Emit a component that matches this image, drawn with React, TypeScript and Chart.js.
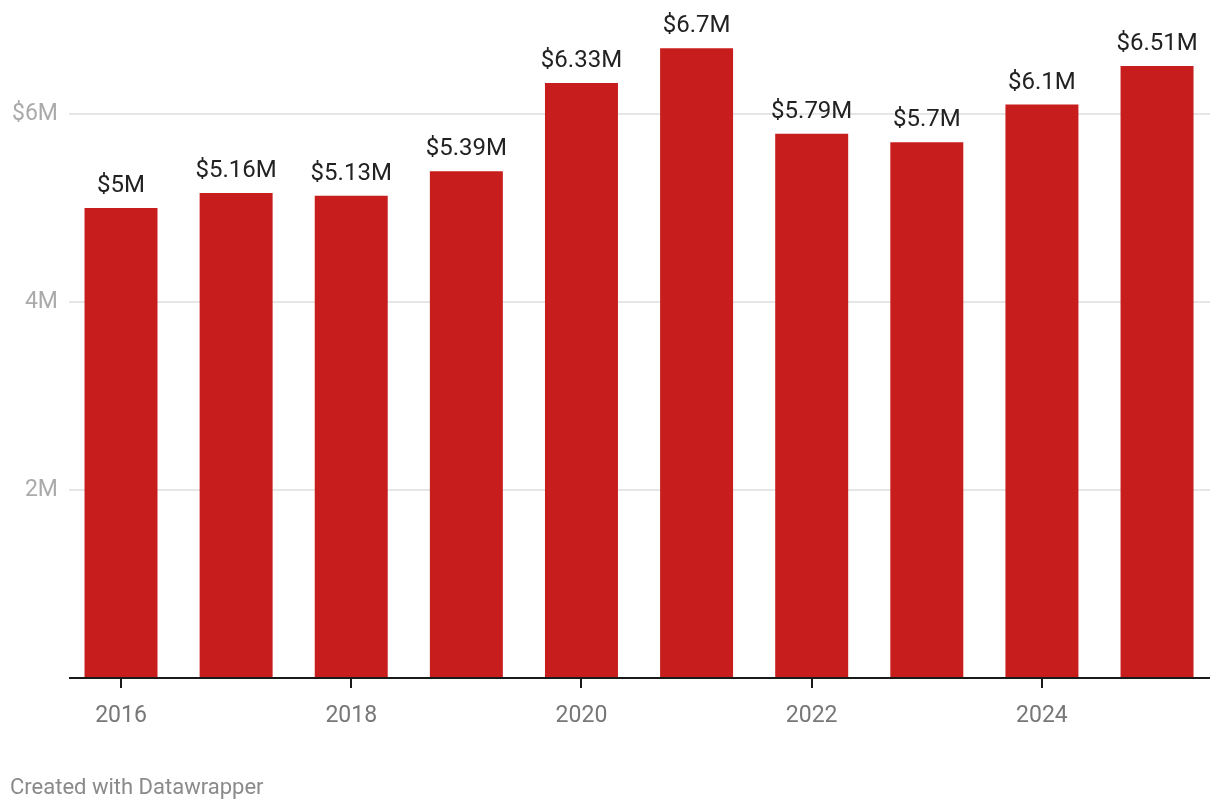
import React, { useEffect, useRef } from "react";
import { Chart, registerables } from "chart.js";

Chart.register(...registerables);

const years = ["2016", "2017", "2018", "2019", "2020", "2021", "2022", "2023", "2024", "2025"];
const valuesMillions = [5.0, 5.16, 5.13, 5.39, 6.33, 6.7, 5.79, 5.7, 6.1, 6.51];
const valueLabels = ["$5M", "$5.16M", "$5.13M", "$5.39M", "$6.33M", "$6.7M", "$5.79M", "$5.7M", "$6.1M", "$6.51M"];
const gridValues = [2, 4, 6];
const yTickLabels: Record<number, string> = { 2: "2M", 4: "4M", 6: "$6M" };
const footerText = "Created with Datawrapper";

const BAR_COLOR = "#c71e1d";
const FONT = "Roboto, 'Noto Sans', sans-serif";

const customDraw = {
  id: "customDraw",
  beforeDatasetsDraw(chart: any) {
    const { ctx } = chart;
    const y = chart.scales.y;
    ctx.save();
    ctx.strokeStyle = "#e6e6e6";
    ctx.lineWidth = 2;
    for (const g of gridValues) {
      const py = Math.round(y.getPixelForValue(g));
      ctx.beginPath();
      ctx.moveTo(69, py);
      ctx.lineTo(1210, py);
      ctx.stroke();
    }
    ctx.restore();
  },
  afterDatasetsDraw(chart: any) {
    const { ctx } = chart;
    const x = chart.scales.x;
    const y = chart.scales.y;
    const base = y.getPixelForValue(0);
    ctx.save();
    ctx.strokeStyle = "#1a1a1a";
    ctx.lineWidth = 2;
    ctx.beginPath();
    ctx.moveTo(69, base);
    ctx.lineTo(1210, base);
    ctx.stroke();
    years.forEach((_, i) => {
      if (i % 2 !== 0) return;
      const px = Math.round(x.getPixelForValue(i));
      ctx.beginPath();
      ctx.moveTo(px, base);
      ctx.lineTo(px, base + 10);
      ctx.stroke();
    });
    const meta = chart.getDatasetMeta(0);
    ctx.fillStyle = "#222222";
    ctx.font = `24px ${FONT}`;
    ctx.textAlign = "center";
    ctx.textBaseline = "alphabetic";
    meta.data.forEach((bar: any, i: number) => {
      ctx.fillText(valueLabels[i], bar.x, bar.y - 16);
    });
    ctx.restore();
  },
};

export default function App() {
  const ref = useRef<HTMLCanvasElement | null>(null);
  useEffect(() => {
    document.body.style.margin = "0";
    const canvas = ref.current!;
    const chart = new Chart(canvas, {
      type: "bar",
      data: {
        labels: years,
        datasets: [
          {
            data: valuesMillions,
            backgroundColor: BAR_COLOR,
            borderWidth: 0,
            barPercentage: 1,
            categoryPercentage: 0.634,
          },
        ],
      },
      options: {
        responsive: false,
        animation: false,
        layout: { padding: { top: 10.6, right: 5.4, left: 0, bottom: 0 } },
        plugins: { legend: { display: false }, tooltip: { enabled: false } },
        scales: {
          x: {
            grid: { display: false, drawTicks: false },
            border: { display: false },
            ticks: {
              autoSkip: false,
              maxRotation: 0,
              padding: 24,
              color: "#777777",
              font: { family: FONT, size: 23 },
              callback: (_v: any, i: number) => (i % 2 === 0 ? years[i] : ""),
            },
            afterFit: (s: any) => {
              s.height = 132;
              s.paddingLeft = 0;
              s.paddingRight = 0;
            },
          },
          y: {
            min: 0,
            max: 7.1,
            grid: { display: false, drawTicks: false },
            border: { display: false },
            ticks: {
              stepSize: 2,
              includeBounds: false,
              padding: 5.5,
              color: "#aaaaaa",
              font: { family: FONT, size: 23 },
              callback: (v: any) => yTickLabels[v as number] ?? "",
            },
            afterFit: (s: any) => {
              s.width = 63.45;
              s.paddingTop = 0;
              s.paddingBottom = 0;
            },
          },
        },
      },
      plugins: [customDraw],
    });
    return () => chart.destroy();
  }, []);
  return (
    <div style={{ position: "absolute", left: 0, top: 0, width: 1220, height: 810, background: "#fff" }}>
      <canvas ref={ref} width={1220} height={810} style={{ display: "block" }} />
      <div
        style={{
          position: "absolute",
          left: 10,
          top: 773,
          fontFamily: FONT,
          fontSize: 22,
          color: "#8a8a8a",
          lineHeight: "28px",
          whiteSpace: "nowrap",
        }}
      >
        {footerText}
      </div>
    </div>
  );
}
